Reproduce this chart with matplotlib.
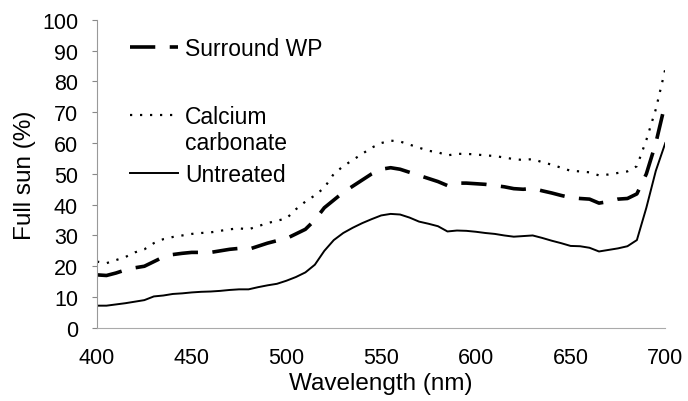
import numpy as np
import matplotlib.pyplot as plt
from matplotlib.lines import Line2D

plt.rcParams['font.family'] = ['Liberation Sans', 'DejaVu Sans']

# Longitudes de onda (nm), cada 5 nm
wavelength = np.arange(400, 701, 5)

untreated = [7.2, 7.2, 7.6, 8.0, 8.5, 9.0, 10.2, 10.5, 11.0, 11.2,
             11.5, 11.7, 11.8, 12.0, 12.3, 12.5, 12.5, 13.2, 13.8, 14.3,
             15.3, 16.5, 18.0, 20.5, 25.0, 28.5, 30.8, 32.5, 34.0, 35.3,
             36.5, 37.0, 36.8, 35.8, 34.5, 33.8, 33.0, 31.3, 31.6, 31.5,
             31.2, 30.8, 30.5, 30.0, 29.6, 29.8, 30.0, 29.2, 28.3, 27.5,
             26.6, 26.5, 26.0, 24.8, 25.3, 25.8, 26.5, 28.5, 39.0, 51.0,
             60.0]

surround_wp = [17.2, 17.0, 17.8, 18.8, 19.5, 20.0, 21.5, 23.0, 23.8, 24.2,
               24.5, 24.5, 24.5, 25.0, 25.5, 25.8, 25.5, 26.5, 27.5, 28.3,
               29.0, 30.5, 32.0, 35.0, 39.0, 41.5, 44.0, 46.0, 48.0, 50.0,
               51.5, 52.0, 51.5, 50.5, 49.5, 48.5, 47.5, 46.2, 47.0, 47.0,
               46.8, 46.6, 46.2, 45.8, 45.2, 45.0, 45.3, 44.5, 43.8, 43.0,
               42.3, 42.0, 41.8, 40.5, 41.0, 41.8, 42.0, 43.5, 50.0, 60.0,
               73.0]

calcium_carbonate = [21.5, 21.0, 22.0, 23.0, 24.5, 25.5, 27.5, 28.8, 29.5, 30.0,
                     30.5, 30.8, 31.0, 31.5, 32.0, 32.3, 32.0, 33.0, 34.0, 34.8,
                     35.5, 38.5, 41.0, 43.0, 45.5, 50.0, 52.5, 54.5, 56.5, 58.5,
                     60.0, 60.8, 60.5, 59.5, 58.5, 57.5, 57.0, 56.0, 56.5, 56.5,
                     56.3, 56.0, 55.8, 55.3, 54.8, 54.5, 54.8, 53.8, 53.0, 52.0,
                     51.0, 50.8, 50.5, 49.5, 49.8, 50.3, 50.8, 52.5, 61.0, 71.0,
                     84.0]

x_ticks = [400, 450, 500, 550, 600, 650, 700]
y_ticks = [0, 10, 20, 30, 40, 50, 60, 70, 80, 90, 100]

fig = plt.figure(figsize=(6.88, 4.02), dpi=100)
ax = fig.add_axes([0.141, 0.182, 0.826, 0.766])

dash_style = dict(color='black', lw=2.6, linestyle=(0, (7, 4)))
dot_style = dict(color='black', lw=1.6, linestyle=(0, (1, 3.5)))
solid_style = dict(color='black', lw=1.4)

ax.plot(wavelength, calcium_carbonate, **dot_style)
ax.plot(wavelength, surround_wp, **dash_style)
ax.plot(wavelength, untreated, **solid_style)

ax.set_xlim(400, 700)
ax.set_ylim(0, 100)
ax.set_xticks(x_ticks)
ax.set_yticks(y_ticks)
ax.tick_params(axis='x', length=0, pad=14, labelsize=15.5)
ax.tick_params(axis='y', length=3.6, color='#888888', width=0.8, pad=10, labelsize=15.5)

for side in ['top', 'right']:
    ax.spines[side].set_visible(False)
ax.spines['left'].set_color('#999999')
ax.spines['left'].set_linewidth(0.8)
ax.spines['bottom'].set_color('#aaaaaa')
ax.spines['bottom'].set_linewidth(0.8)

ax.set_xlabel('Wavelength (nm)', fontsize=17.5)
ax.set_ylabel('Full sun (%)', fontsize=17.5)
ax.xaxis.set_label_coords(0.5, -0.145)
ax.yaxis.set_label_coords(-0.108, 0.5)

# Leyenda: una entrada por bloque para respetar el espaciado irregular
entries = [
    (Line2D([], [], **dash_style), 'Surround WP', 0.907),
    (Line2D([], [], **dot_style), 'Calcium', 0.687),
    (Line2D([], [], color='none'), 'carbonate', 0.602),
    (Line2D([], [], **solid_style), 'Untreated', 0.498),
]
for i, (handle, label, ypos) in enumerate(entries):
    leg = ax.legend([handle], [label], loc='center left', bbox_to_anchor=(0.058, ypos),
                    frameon=False, fontsize=16.5, handlelength=2.1, handletextpad=0.3,
                    borderpad=0, borderaxespad=0)
    if i < len(entries) - 1:
        ax.add_artist(leg)

fig.savefig('out.png', dpi=100)
